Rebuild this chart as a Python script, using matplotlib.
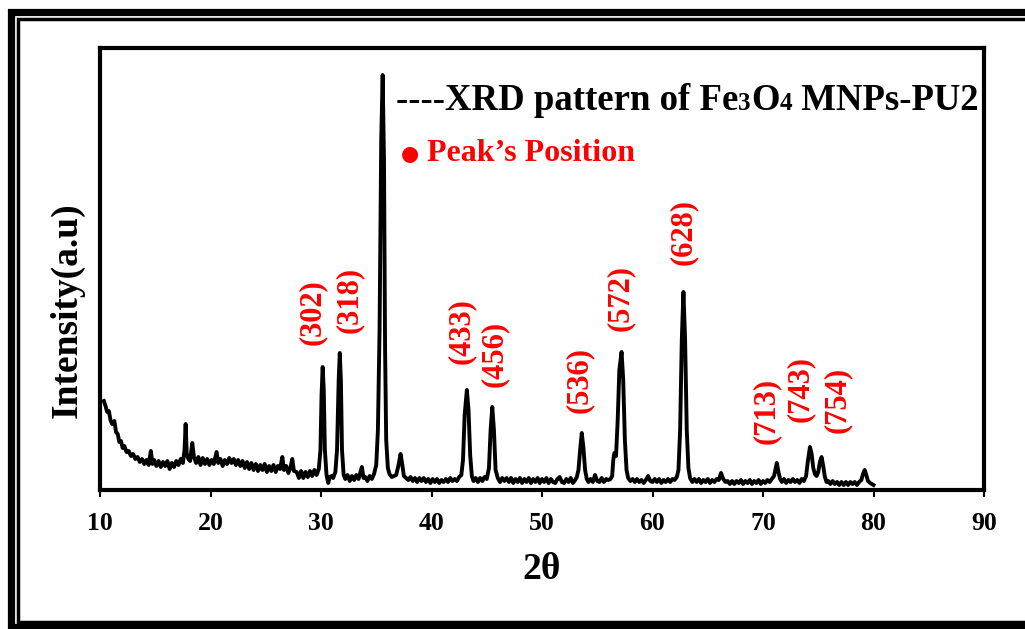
import matplotlib
matplotlib.use("Agg")
import matplotlib.pyplot as plt
from matplotlib.lines import Line2D
from matplotlib.transforms import IdentityTransform

plt.rcParams['font.family'] = ['Liberation Serif', 'DejaVu Serif']
plt.rcParams['font.weight'] = 'bold'

# XRD scan, (2theta, intensity a.u.)
scan_10_30 = [
    (10.35, 89), (10.5, 84), (10.65, 78), (10.8, 79), (10.95, 70), (11.1, 66),
    (11.3, 69), (11.45, 58), (11.6, 56), (11.75, 48), (11.9, 49), (12.05, 42),
    (12.2, 44), (12.4, 38), (12.6, 39), (12.8, 34), (13.0, 36), (13.2, 31),
    (13.4, 33), (13.6, 28), (13.8, 31), (14.0, 26), (14.2, 30), (14.4, 25),
    (14.6, 39), (14.75, 26), (14.9, 30), (15.1, 24), (15.3, 29), (15.5, 23),
    (15.7, 28), (15.9, 24), (16.1, 29), (16.3, 21), (16.5, 27), (16.7, 23),
    (16.9, 29), (17.1, 25), (17.3, 31), (17.5, 27), (17.65, 40), (17.75, 66),
    (17.85, 36), (18.0, 31), (18.15, 29), (18.35, 47), (18.5, 33), (18.7, 27),
    (18.9, 33), (19.1, 25), (19.3, 32), (19.5, 26), (19.7, 31), (19.9, 25),
    (20.1, 30), (20.3, 26), (20.55, 38), (20.7, 27), (20.9, 31), (21.1, 24),
    (21.3, 30), (21.5, 26), (21.7, 32), (21.9, 27), (22.1, 31), (22.3, 25),
    (22.5, 30), (22.7, 24), (22.9, 29), (23.1, 22), (23.3, 28), (23.5, 21),
    (23.7, 27), (23.9, 20), (24.1, 26), (24.3, 19), (24.5, 25), (24.7, 20),
    (24.9, 26), (25.1, 18), (25.3, 24), (25.5, 19), (25.7, 25), (25.9, 18),
    (26.1, 24), (26.3, 21), (26.5, 33), (26.65, 20), (26.85, 24), (27.05, 17),
    (27.25, 23), (27.4, 31), (27.55, 19), (27.8, 18), (28.0, 12), (28.2, 19),
    (28.4, 12), (28.6, 18), (28.8, 13), (29.0, 19), (29.2, 14), (29.4, 20),
    (29.6, 15), (29.8, 21),
]
scan_30_46 = [
    (29.95, 40), (30.05, 95), (30.15, 123), (30.25, 100), (30.35, 40),
    (30.5, 15), (30.65, 7), (30.8, 13), (30.95, 14), (31.1, 12), (31.3, 18),
    (31.45, 40), (31.6, 110), (31.7, 137), (31.8, 110), (31.9, 40), (32.05, 15),
    (32.2, 11), (32.4, 15), (32.6, 9), (32.8, 14), (33.0, 10), (33.2, 15),
    (33.4, 11), (33.7, 23), (33.85, 12), (34.0, 13), (34.2, 9), (34.4, 14),
    (34.6, 11), (34.8, 16), (35.0, 25), (35.15, 60), (35.3, 160), (35.45, 350),
    (35.58, 415), (35.7, 330), (35.8, 140), (35.9, 50), (36.05, 22), (36.2, 16),
    (36.4, 13), (36.6, 14), (36.8, 15), (37.0, 24), (37.2, 36), (37.35, 26),
    (37.5, 14), (37.7, 12), (37.9, 10), (38.1, 13), (38.3, 9), (38.5, 12),
    (38.7, 8), (38.9, 12), (39.1, 9), (39.3, 12), (39.5, 8), (39.7, 11),
    (39.9, 7), (40.1, 11), (40.3, 8), (40.5, 11), (40.7, 7), (40.9, 10),
    (41.1, 8), (41.3, 11), (41.5, 8), (41.7, 12), (41.9, 9), (42.1, 11),
    (42.3, 9), (42.5, 13), (42.7, 15), (42.85, 30), (43.0, 75), (43.2, 100),
    (43.35, 80), (43.5, 35), (43.65, 14), (43.8, 9), (44.0, 12), (44.2, 8),
    (44.4, 12), (44.6, 9), (44.8, 13), (45.0, 11), (45.2, 22), (45.35, 60),
    (45.5, 83), (45.65, 60), (45.8, 20), (46.0, 12),
]
scan_46_63 = [
    (46.2, 8), (46.4, 12), (46.6, 9), (46.8, 12), (47.0, 8), (47.2, 12),
    (47.4, 7), (47.6, 11), (47.8, 8), (48.0, 12), (48.2, 7), (48.4, 11),
    (48.6, 8), (48.8, 12), (49.0, 7), (49.2, 11), (49.4, 8), (49.6, 12),
    (49.8, 7), (50.0, 11), (50.2, 8), (50.4, 12), (50.6, 7), (50.8, 11),
    (51.0, 8), (51.2, 7), (51.4, 11), (51.6, 13), (51.8, 8), (52.0, 7),
    (52.2, 11), (52.4, 8), (52.6, 12), (52.8, 7), (53.0, 10), (53.15, 13),
    (53.3, 20), (53.45, 40), (53.6, 57), (53.75, 42), (53.9, 20), (54.05, 11),
    (54.2, 8), (54.4, 11), (54.6, 8), (54.8, 15), (55.0, 9), (55.2, 8),
    (55.4, 12), (55.6, 8), (55.8, 11), (56.0, 10), (56.2, 11), (56.35, 14),
    (56.45, 30), (56.55, 37), (56.7, 34), (56.85, 70), (57.0, 120), (57.2, 138),
    (57.35, 110), (57.5, 50), (57.65, 20), (57.8, 12), (58.0, 9), (58.2, 11),
    (58.4, 8), (58.6, 11), (58.8, 8), (59.0, 10), (59.2, 7), (59.4, 10),
    (59.6, 14), (59.8, 9), (60.0, 8), (60.2, 11), (60.4, 8), (60.6, 11),
    (60.8, 7), (61.0, 10), (61.2, 8), (61.4, 11), (61.6, 8), (61.8, 11),
    (62.0, 10), (62.2, 13), (62.35, 20), (62.5, 60), (62.65, 150), (62.8, 198),
    (62.95, 150), (63.1, 60), (63.25, 22), (63.4, 12),
]
scan_63_80 = [
    (63.6, 8), (63.8, 11), (64.0, 8), (64.2, 11), (64.4, 7), (64.6, 10),
    (64.8, 8), (65.0, 11), (65.2, 7), (65.4, 10), (65.6, 8), (65.8, 11),
    (66.0, 10), (66.2, 17), (66.4, 11), (66.6, 8), (66.8, 9), (67.0, 6),
    (67.2, 9), (67.4, 6), (67.6, 9), (67.8, 7), (68.0, 10), (68.2, 6),
    (68.4, 9), (68.6, 7), (68.8, 10), (69.0, 6), (69.2, 9), (69.4, 7),
    (69.6, 10), (69.8, 6), (70.0, 9), (70.2, 7), (70.4, 10), (70.6, 8),
    (70.8, 11), (71.0, 14), (71.15, 22), (71.25, 27), (71.4, 18), (71.55, 11),
    (71.7, 8), (71.9, 11), (72.1, 7), (72.3, 10), (72.5, 8), (72.7, 11),
    (72.9, 8), (73.1, 10), (73.3, 7), (73.5, 11), (73.7, 9), (73.9, 14),
    (74.05, 28), (74.25, 43), (74.4, 36), (74.55, 22), (74.7, 16), (74.85, 14),
    (75.0, 18), (75.15, 28), (75.3, 33), (75.45, 24), (75.6, 13), (75.75, 8),
    (75.9, 9), (76.1, 6), (76.3, 9), (76.5, 6), (76.7, 8), (76.9, 5),
    (77.1, 8), (77.3, 5), (77.5, 8), (77.7, 5), (77.9, 8), (78.1, 6),
    (78.3, 8), (78.5, 5), (78.7, 8), (78.9, 10), (79.05, 16), (79.2, 20),
    (79.35, 15), (79.5, 9), (79.7, 7), (79.85, 6), (80.0, 5),
]

hkl_labels = ['(302)', '(318)', '(433)', '(456)', '(536)',
              '(572)', '(628)', '(713)', '(743)', '(754)']
label_x = [29.2, 32.6, 42.7, 45.7, 53.4, 57.1, 62.8, 70.3, 73.4, 76.7]
label_y = [178, 190, 159, 136, 110, 192, 258, 79, 101, 90]

xticks = [10, 20, 30, 40, 50, 60, 70, 80, 90]

points = scan_10_30 + scan_30_46 + scan_46_63 + scan_63_80
two_theta = [p[0] for p in points]
intensity = [p[1] for p in points]

fig = plt.figure(figsize=(10.25, 6.29), dpi=100)
ax = fig.add_axes([100 / 1025, 1 - 490 / 629, 884 / 1025, 442 / 629])

ax.plot(two_theta, intensity, color='black', lw=2.8)
ax.set_xlim(10, 90)
ax.set_ylim(0, 442)
ax.set_xticks(xticks)
ax.set_xticklabels([str(t) for t in xticks], fontsize=18.5, fontweight='bold')
ax.set_yticks([])
ax.tick_params(axis='x', direction='out', length=5, width=1.5, pad=11)
for sp in ax.spines.values():
    sp.set_linewidth(3)

ax.set_xlabel('2θ', fontsize=27, fontweight='bold', labelpad=12)
ax.set_ylabel('Intensity(a.u)', fontsize=27, fontweight='bold')
ax.yaxis.set_label_coords(-0.017, 0.407)

for lab, lx, ly in zip(hkl_labels, label_x, label_y):
    ax.text(lx, ly, lab, rotation=90, color='red', fontsize=22,
            fontweight='bold', ha='center', va='center')

# legend-like text, drawn piece by piece so the digits sit small on the baseline
renderer = fig.canvas.get_renderer()
pieces = [('----XRD pattern of Fe', 26.5), ('3', 18), ('O', 26.5), ('4', 18),
          (' MNPs-PU2', 26.5)]
xpos = 396
for s, size in pieces:
    t = fig.text(xpos, 629 - 110, s, fontsize=size, fontweight='bold',
                 color='black', transform=IdentityTransform(), va='baseline')
    xpos = t.get_window_extent(renderer).x1

fig.text(401, 629 - 160, '●', fontsize=15, color='red',
         transform=IdentityTransform(), va='baseline',
         family=['DejaVu Sans'])
fig.text(427, 629 - 161, 'Peak’s Position', fontsize=23, fontweight='bold',
         color='red', transform=IdentityTransform(), va='baseline')

# double border around the figure, open on the right edge
fig.add_artist(Line2D([1025, 10.5, 10.5, 1025], [617, 617, 2, 2], lw=5.2,
                      color='black', transform=IdentityTransform(),
                      solid_joinstyle='miter', solid_capstyle='butt'))
fig.add_artist(Line2D([1025, 18, 18, 1025], [610.5, 610.5, 7.5, 7.5], lw=2.5,
                      color='black', transform=IdentityTransform(),
                      solid_joinstyle='miter', solid_capstyle='butt'))

fig.savefig('out.png', dpi=100)
